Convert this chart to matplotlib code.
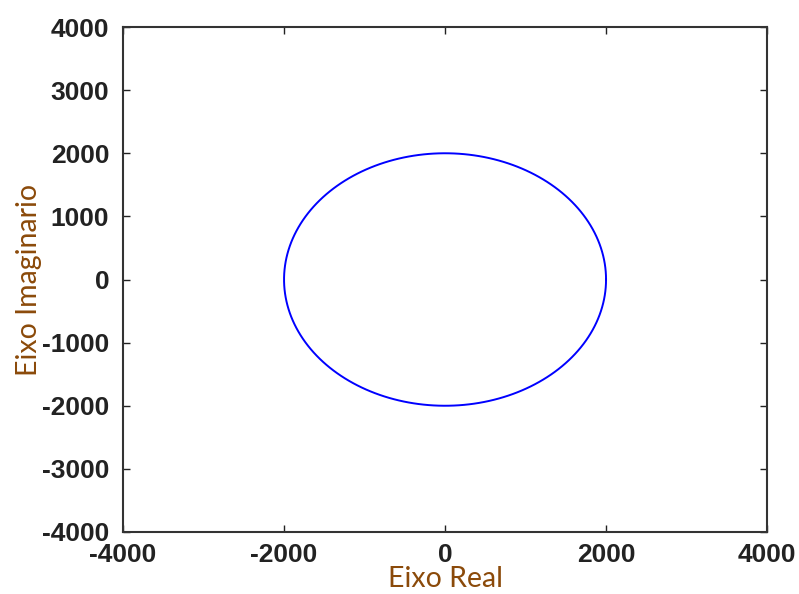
import numpy as np
import matplotlib.pyplot as plt

plt.rcParams['axes.unicode_minus'] = False

# dados: circulo no plano complexo
raio = 2000
centro = (0, 0)
n_pontos = 200
ticks = [-4000, -3000, -2000, -1000, 0, 1000, 2000, 3000, 4000]
xticks = [-4000, -2000, 0, 2000, 4000]

theta = np.linspace(0, 2 * np.pi, n_pontos)
re = centro[0] + raio * np.cos(theta)
im = centro[1] + raio * np.sin(theta)

fig = plt.figure(figsize=(7.99, 5.94), dpi=100)
ax = fig.add_axes([0.154, 0.1044, 0.806, 0.8501])

ax.plot(re, im, color='#0000ff', lw=1.4)
ax.set_xlim(-4000, 4000)
ax.set_ylim(-4000, 4000)
ax.set_xticks(xticks)
ax.set_yticks(ticks)
ax.tick_params(direction='in', top=True, right=True, length=5, width=1,
               labelsize=19, colors='#222222', labelcolor='#222222')
ax.tick_params(axis='y', pad=10)
ax.tick_params(axis='x', pad=8)
for lab in ax.get_xticklabels() + ax.get_yticklabels():
    lab.set_fontweight('bold')
    lab.set_family('Liberation Sans')
for s in ax.spines.values():
    s.set_linewidth(1.5)
    s.set_color('#333333')

ax.set_xlabel('Eixo Real', fontsize=20.5, family='Lato', color='#8B4A0A', labelpad=-1)
ax.set_ylabel('Eixo Imaginario', fontsize=20.5, family='Lato', color='#8B4A0A', labelpad=0)

fig.savefig('out.png', dpi=100)
